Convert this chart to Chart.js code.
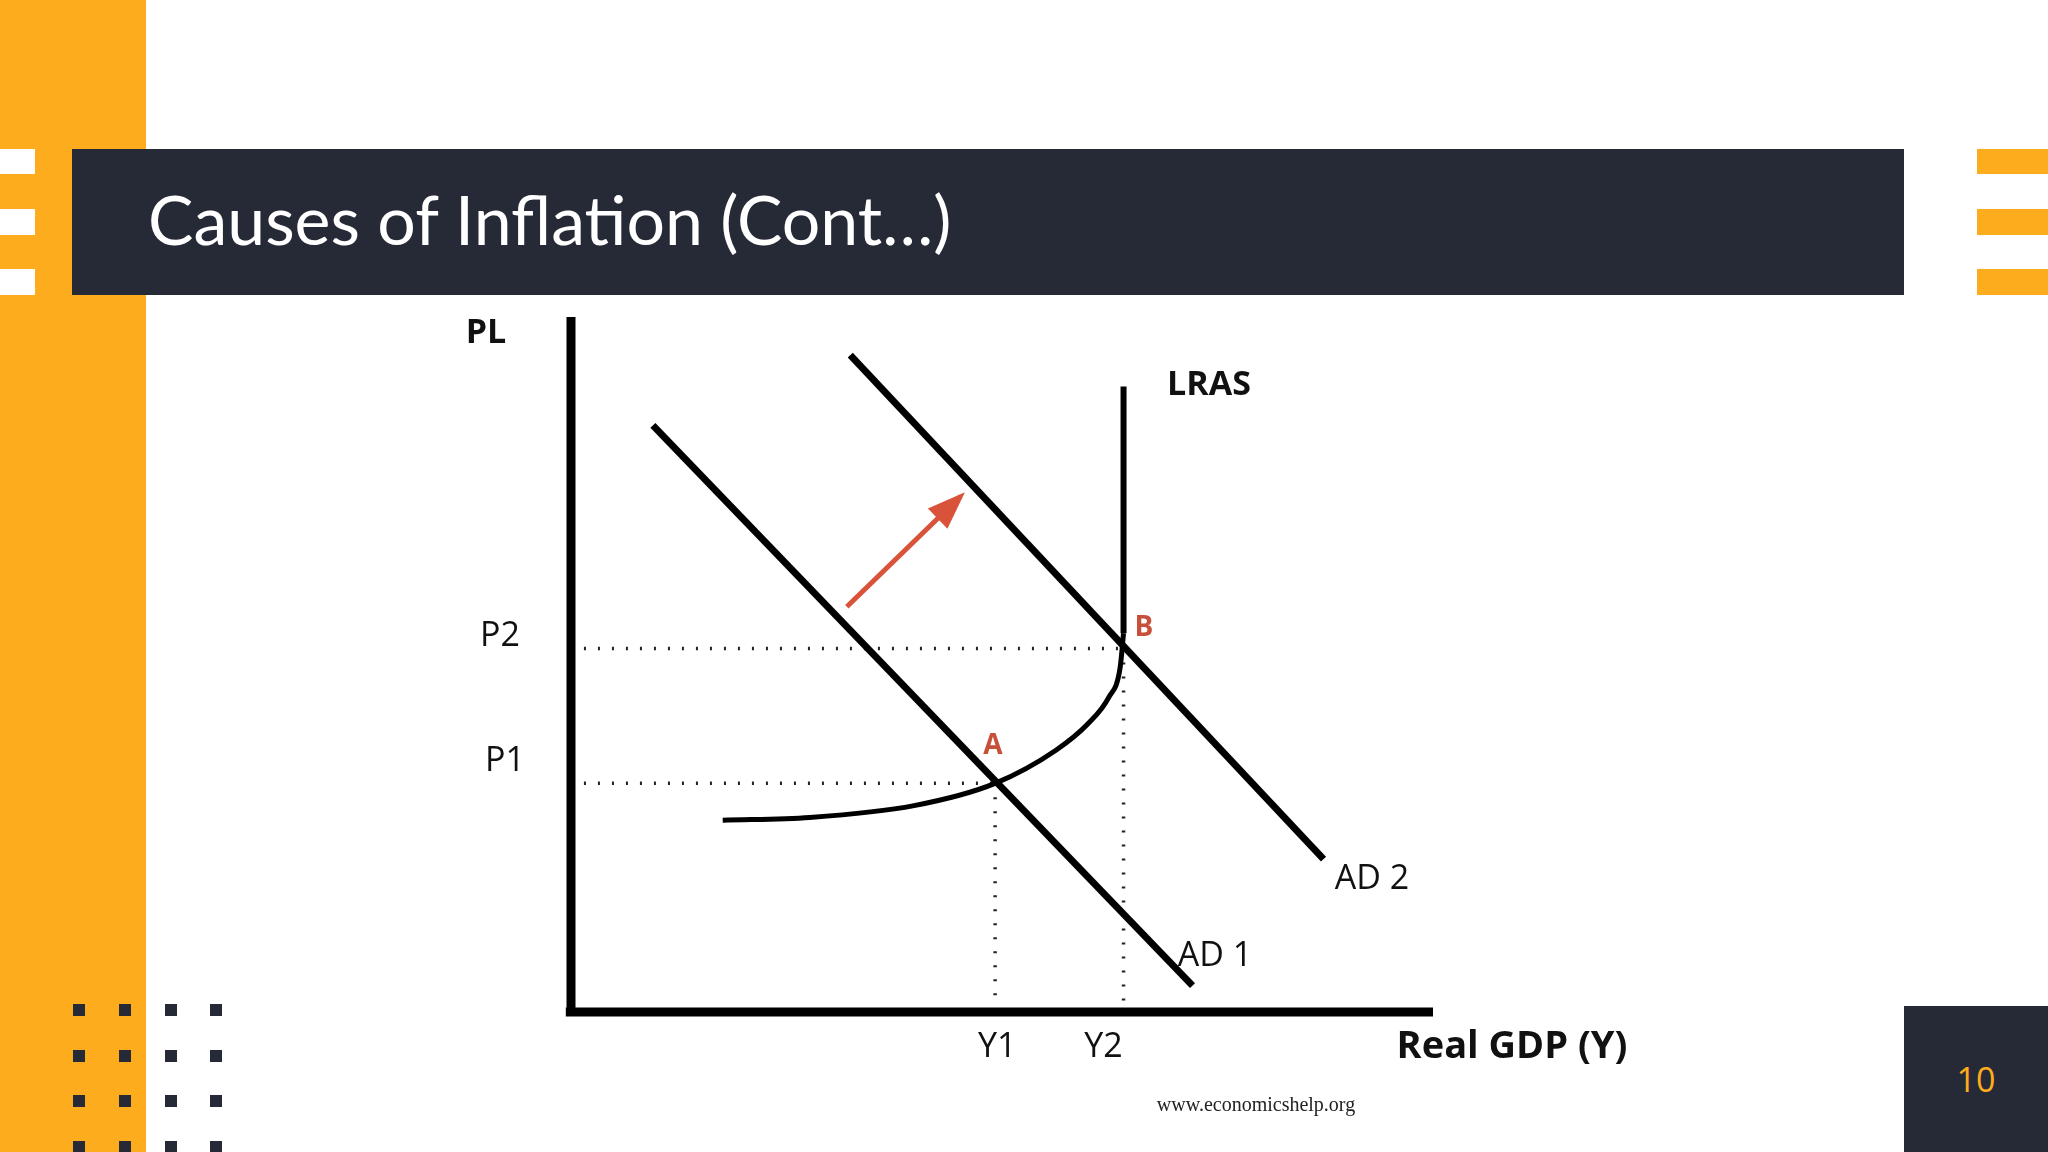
<!DOCTYPE html>
<html><head><meta charset="utf-8">
<script src="https://cdn.jsdelivr.net/npm/chart.js@4"></script>
<style>
html,body{margin:0;padding:0;width:2048px;height:1152px;overflow:hidden;background:#fff;font-family:"Open Sans",sans-serif;}
.abs{position:absolute;}
</style></head>
<body>
<div class="abs" style="left:0;top:0;width:146px;height:1152px;background:#fdac1e"></div>
<div class="abs" style="left:72px;top:149px;width:1832px;height:146px;background:#262a36"></div>
<div class="abs" style="left:0;top:149px;width:35px;height:25px;background:#fff"></div>
<div class="abs" style="left:0;top:209px;width:35px;height:26px;background:#fff"></div>
<div class="abs" style="left:0;top:269px;width:35px;height:26px;background:#fff"></div>
<div class="abs" style="left:1977px;top:149px;width:71px;height:25px;background:#fdac1e"></div>
<div class="abs" style="left:1977px;top:209px;width:71px;height:26px;background:#fdac1e"></div>
<div class="abs" style="left:1977px;top:269px;width:71px;height:26px;background:#fdac1e"></div>
<div class="abs" style="left:148px;top:174px;color:#fff;font-family:Lato,sans-serif;font-size:68px;line-height:90px;">Causes of Inflation (Cont…)</div>
<div class="abs" style="left:1904px;top:1006px;width:144px;height:146px;background:#262a36;color:#fdac1e;font-size:34px;display:flex;align-items:center;justify-content:center;">10</div>
<div id="dots"></div>
<canvas id="c" class="abs" style="left:0;top:0" width="2048" height="1152"></canvas>
<script>
(function(){let h='';for(const x of [73,119,165,210])for(const y of [1004,1050,1095,1141])h+=`<div class="abs" style="left:${x}px;top:${y}px;width:12px;height:12px;background:#262a36"></div>`;document.getElementById('dots').innerHTML=h;})();

const ad1X=[9.5,72.1], ad1Y=[84.4,3.8];
const ad2X=[32.4,87.3], ad2Y=[94.5,22.0];
const lrasX=[64.1,64.1,63.7,62.4,60.0,56.3,49.2,39.8,27.7,17.6];
const lrasY=[90.0,54.5,49.5,45.3,41.5,37.7,32.9,29.7,28.0,27.6];
const pLevels=[32.9,52.3], pLabels=['P1','P2'];
const yLevels=[49.2,64.1], yLabels=['Y1','Y2'];
const arrowX=[32.0,45.2], arrowY=[58.3,74.2];

const pts=(xs,ys)=>xs.map((x,i)=>({x,y:ys[i]}));
const solid=(data,extra={})=>Object.assign({data,borderColor:'#000',borderWidth:7,pointRadius:0,showLine:true,fill:false,clip:false,tension:0},extra);
const dotted=(data)=>({data,borderColor:'#222',borderWidth:3.5,borderDash:[2,12],pointRadius:0,showLine:true,clip:false});

const datasets=[
 solid(pts(ad1X,ad1Y)),
 solid(pts(ad2X,ad2Y)),
 solid(pts(lrasX.slice(0,2),lrasY.slice(0,2)),{borderWidth:6}),
 solid(pts(lrasX.slice(1),lrasY.slice(1)),{borderWidth:5,tension:0.4,cubicInterpolationMode:'monotone'}),
 dotted([{x:1.5,y:pLevels[0]},{x:yLevels[0],y:pLevels[0]}]),
 dotted([{x:1.5,y:pLevels[1]},{x:yLevels[1],y:pLevels[1]}]),
 dotted([{x:yLevels[0],y:pLevels[0]},{x:yLevels[0],y:1.3}]),
 dotted([{x:yLevels[1],y:pLevels[1]},{x:yLevels[1],y:1.3}]),
 solid([{x:0,y:0},{x:0,y:100}],{borderWidth:9}),
 solid([{x:-0.6,y:0},{x:100,y:0}],{borderWidth:9}),
 solid(pts(arrowX,arrowY),{borderColor:'#d9533a',borderWidth:5}),
];

const labelPlugin={id:'labels',afterDatasetsDraw(ch){
 const c=ch.ctx,xs=ch.scales.x,ys=ch.scales.y;
 const x1=xs.getPixelForValue(arrowX[0]),y1=ys.getPixelForValue(arrowY[0]);
 const x2=xs.getPixelForValue(arrowX[1]),y2=ys.getPixelForValue(arrowY[1]);
 const a=Math.atan2(y2-y1,x2-x1),L=32,W=14;
 c.save();c.fillStyle='#d9533a';c.beginPath();
 c.moveTo(x2+6*Math.cos(a),y2+6*Math.sin(a));
 c.lineTo(x2-L*Math.cos(a)+W*Math.sin(a),y2-L*Math.sin(a)-W*Math.cos(a));
 c.lineTo(x2-L*Math.cos(a)-W*Math.sin(a),y2-L*Math.sin(a)+W*Math.cos(a));
 c.closePath();c.fill();
 const t=(s,x,y,font,col='#111',al='center')=>{c.font=font;c.fillStyle=col;c.textAlign=al;c.textBaseline='middle';c.fillText(s,x,y);};
 const f='34px "Open Sans"',fb='bold 34px "Open Sans"';
 t('PL',486,333,fb);
 t('LRAS',1209,385,fb);
 t(pLabels[1],500,636,f);
 t(pLabels[0],505,761,f);
 yLevels.forEach((v,i)=>t(yLabels[i],xs.getPixelForValue(v)+(i?-20:2),1047,f));
 t('A',993,746,'bold 28px "Open Sans"','#c8503a');
 t('B',1144,628,'bold 28px "Open Sans"','#c8503a');
 t('AD 2',1372,879,f);
 t('AD 1',1215,956,f);
 t('Real GDP (Y)',1512,1047,'bold 38px "Open Sans"');
 t('www.economicshelp.org',1256,1106,'20px "Liberation Serif"','#222');
 c.restore();
}};

new Chart(document.getElementById('c'),{type:'scatter',data:{datasets},
 options:{responsive:false,animation:false,
  layout:{padding:{left:571,top:317,right:615,bottom:140}},
  plugins:{legend:{display:false},tooltip:{enabled:false}},
  scales:{x:{type:'linear',min:0,max:100,display:false},y:{type:'linear',min:0,max:100,display:false}}},
 plugins:[labelPlugin]});
</script>
</body></html>
